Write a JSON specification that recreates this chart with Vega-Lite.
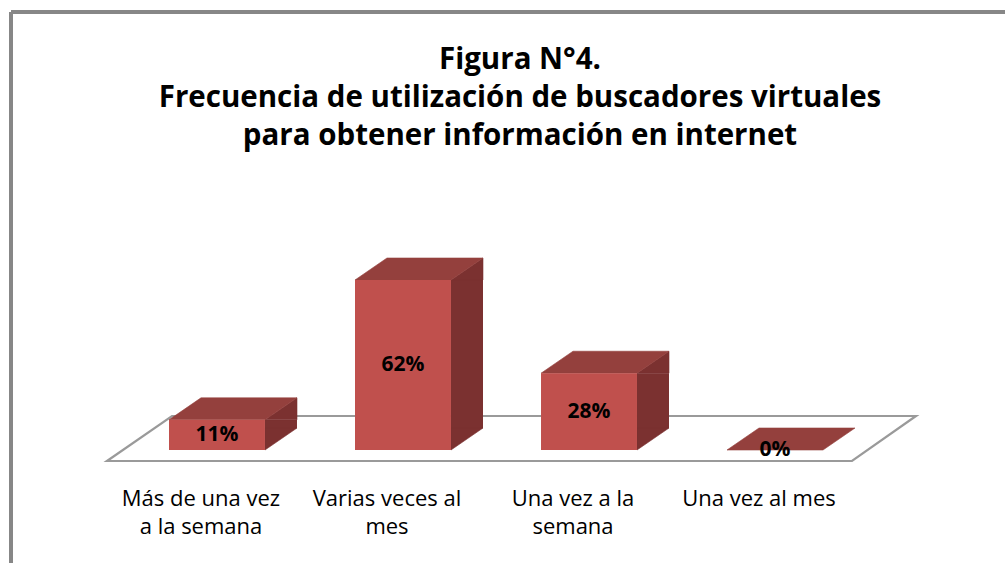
{
  "$schema": "https://vega.github.io/schema/vega-lite/v6.json",
  "width": 994,
  "height": 551,
  "autosize": {"type": "none"},
  "padding": {"left": 11, "top": 12, "right": 0, "bottom": 0},
  "background": "white",
  "config": {
    "view": {"stroke": "#878787", "strokeWidth": 4, "strokeDash": [994, 1545, 551, 0]},
    "font": "Open Sans"
  },
  "title": {
    "text": ["Figura N°4.", "Frecuencia  de utilización de buscadores virtuales", "para obtener información en internet"],
    "font": "Open Sans",
    "fontSize": 29.5,
    "fontWeight": "bold",
    "color": "#000000",
    "lineHeight": 38,
    "frame": "group",
    "anchor": "middle",
    "offset": -139,
    "dx": 12
  },
  "data": {
    "values": [
      {"categoria": "Más de una vez a la semana", "etiqueta": "Más de una vez\na la semana", "porcentaje": 0.11},
      {"categoria": "Varias veces al mes", "etiqueta": "Varias veces al\nmes", "porcentaje": 0.62},
      {"categoria": "Una vez a la semana", "etiqueta": "Una vez a la\nsemana", "porcentaje": 0.28},
      {"categoria": "Una vez al mes", "etiqueta": "Una vez al mes", "porcentaje": 0}
    ]
  },
  "encoding": {
    "x": {
      "field": "categoria",
      "type": "nominal",
      "sort": null,
      "axis": null,
      "scale": {"range": [158, 812], "paddingInner": 0.484, "paddingOuter": 0}
    }
  },
  "layer": [
    {
      "transform": [{"filter": {"field": "categoria", "equal": "Más de una vez a la semana"}}],
      "mark": {"type": "point", "shape": "M-110,11L635,11L699,-34L-45,-34Z", "size": 4, "filled": false, "stroke": "#9a9a9a", "strokeWidth": 2.2, "opacity": 1},
      "encoding": {
        "y": {"datum": 0, "type": "quantitative", "scale": {"domain": [0, 0.62], "range": [438, 268], "nice": false}, "axis": null}
      }
    },
    {
      "transform": [{"filter": "datum.porcentaje > 0"}],
      "mark": {"type": "bar", "color": "#7B3130", "width": 32, "xOffset": 64, "y2Offset": -22},
      "encoding": {
        "y": {"field": "porcentaje", "type": "quantitative", "scale": {"domain": [0, 0.62], "range": [438, 268], "nice": false}, "axis": null},
        "y2": {"datum": 0}
      }
    },
    {
      "transform": [{"filter": "datum.porcentaje > 0"}],
      "mark": {"type": "point", "shape": "M48,0L80,-22L80,0Z", "size": 4, "filled": true, "color": "#7B3130", "stroke": "#7B3130", "strokeWidth": 0.6, "opacity": 1},
      "encoding": {
        "y": {"field": "porcentaje", "type": "quantitative", "scale": {"domain": [0, 0.62], "range": [438, 268], "nice": false}, "axis": null}
      }
    },
    {
      "transform": [{"filter": "datum.porcentaje > 0"}],
      "mark": {"type": "point", "shape": "M48,-22L80,-22L48,0Z", "size": 4, "filled": true, "color": "#7B3130", "stroke": "#7B3130", "strokeWidth": 0.6, "opacity": 1},
      "encoding": {
        "y": {"datum": 0, "type": "quantitative", "scale": {"domain": [0, 0.62], "range": [438, 268], "nice": false}, "axis": null}
      }
    },
    {
      "mark": {"type": "point", "shape": "M-48,0L48,0L80,-22L-16,-22Z", "size": 4, "filled": true, "color": "#94403D", "stroke": "#94403D", "strokeWidth": 0.6, "opacity": 1},
      "encoding": {
        "y": {"field": "porcentaje", "type": "quantitative", "scale": {"domain": [0, 0.62], "range": [438, 268], "nice": false}, "axis": null}
      }
    },
    {
      "mark": {"type": "bar", "color": "#C0504D"},
      "encoding": {
        "y": {"field": "porcentaje", "type": "quantitative", "scale": {"domain": [0, 0.62], "range": [438, 268], "nice": false}, "axis": null},
        "y2": {"datum": 0}
      }
    },
    {
      "mark": {"type": "text", "font": "Open Sans", "fontSize": 21, "fontWeight": "bold", "color": "#000000", "align": "center", "baseline": "middle"},
      "encoding": {
        "y": {"field": "porcentaje", "type": "quantitative", "scale": {"domain": [0, 1.24], "range": [438, 268], "nice": false}, "axis": null},
        "text": {"field": "porcentaje", "type": "quantitative", "format": ".0%"}
      }
    },
    {
      "mark": {"type": "text", "font": "Open Sans", "fontSize": 22, "color": "#000000", "align": "center", "baseline": "top", "lineBreak": "\n", "lineHeight": 28, "dx": -16, "dy": 39},
      "encoding": {
        "y": {"datum": 0, "type": "quantitative", "scale": {"domain": [0, 0.62], "range": [438, 268], "nice": false}, "axis": null},
        "text": {"field": "etiqueta", "type": "nominal"}
      }
    }
  ],
  "resolve": {"scale": {"y": "independent"}}
}
